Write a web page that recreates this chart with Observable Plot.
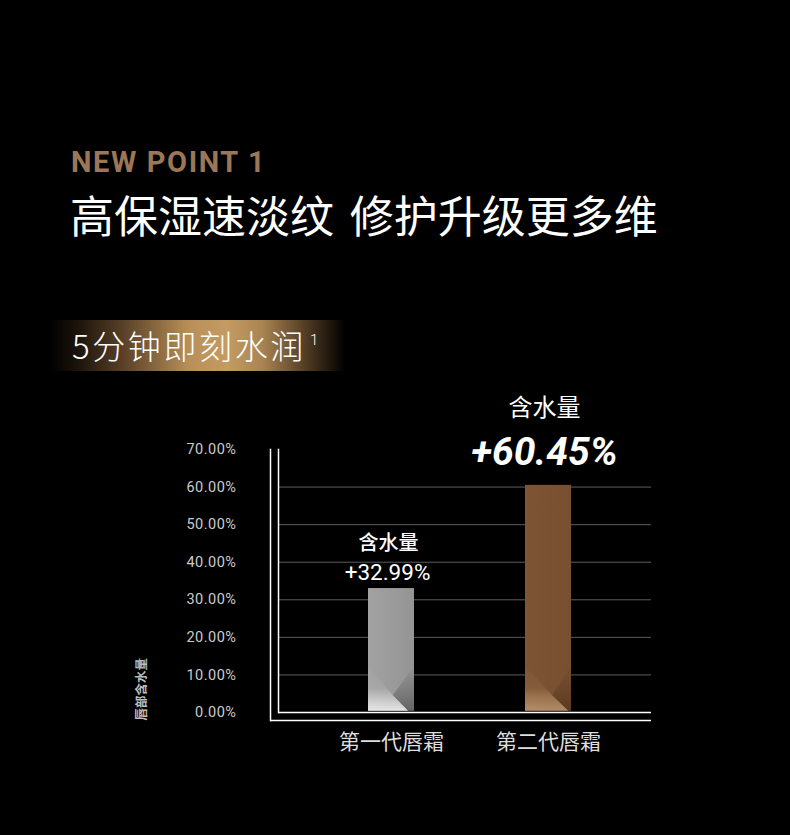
<!DOCTYPE html>
<html>
<head>
<meta charset="utf-8">
<script src="https://cdn.jsdelivr.net/npm/d3@7"></script>
<script src="https://cdn.jsdelivr.net/npm/@observablehq/plot@0.6"></script>
<style>
html, body { margin: 0; padding: 0; background: #000; }
#page { position: relative; width: 790px; height: 835px; background: #000; overflow: hidden; font-family: "Noto Sans CJK SC", "Noto Sans", sans-serif; }
#kicker { position: absolute; left: 71px; top: 148px; font: 700 29px/29px Roboto, "Noto Sans", sans-serif; letter-spacing: 1.6px; color: #9b7758; white-space: nowrap; }
#title { position: absolute; left: 70px; top: 189px; font: 400 44px/50px "Noto Sans CJK SC", sans-serif; color: #fff; word-spacing: 6px; white-space: nowrap; margin: 0; }
#banner { position: absolute; left: 50px; top: 320px; width: 295px; height: 51px;
  background: linear-gradient(90deg, rgba(0,0,0,0) 0%, #1e150c 10%, #5a4128 25%, #b88f58 47%, #c49c62 60%, #a98452 72%, #4a3620 88%, #000 100%); }
#banner .t { position: absolute; left: 22px; top: 0; font: 300 33px/51px "Noto Sans CJK SC", sans-serif; color: #fff; letter-spacing: 2.6px; white-space: nowrap; }
#banner .sup { position: absolute; left: 260px; top: 13px; font: 300 15px/15px Roboto, sans-serif; color: #fff; }
#chart { position: absolute; left: 0; top: 380px; }
#chart svg [aria-label="y-axis tick label"] text { letter-spacing: 0.5px; }
</style>
</head>
<body>
<div id="page">
  <div id="kicker">NEW POINT 1</div>
  <h1 id="title">高保湿速淡纹 修护升级更多维</h1>
  <div id="banner"><span class="t">5分钟即刻水润</span><span class="sup">1</span></div>
  <div id="chart"></div>
</div>
<script>
const categories = ["第一代唇霜", "第二代唇霜"];
const values = [32.99, 60.45];
const valueLabels = ["+32.99%", "+60.45%"];
const labelTitle = "含水量";
const yTicks = [0, 10, 20, 30, 40, 50, 60, 70];
const gridTicks = [10, 20, 30, 40, 50, 60];
const yTitle = "唇部含水量";

const data = categories.map((c, i) => ({category: c, value: values[i], label: valueLabels[i], i}));

const SVGNS = "http://www.w3.org/2000/svg";

function defsMark() {
  const defs = d3.create("svg:defs");
  const lg = (id, x2, y2, stops) => {
    const g = defs.append("linearGradient").attr("id", id)
      .attr("x1", 0).attr("y1", 0).attr("x2", x2).attr("y2", y2);
    stops.forEach(([o, c, a]) => g.append("stop").attr("offset", o).attr("stop-color", c).attr("stop-opacity", a == null ? 1 : a));
  };
  lg("gGray", 1, 0, [[0, "#a2a2a2"], [1, "#949494"]]);
  lg("gBrown", 1, 0, [[0, "#7e5534"], [1, "#79502f"]]);
  lg("fGrayL", 0, 1, [[0, "#ffffff", 0], [0.5, "#ffffff", 0.08], [0.66, "#ffffff", 0.3], [1, "#ffffff", 0.75]]);
  lg("fGrayD", 0, 1, [[0, "#000000", 0], [0.65, "#000000", 0.2], [1, "#000000", 0.33]]);
  lg("fBrownL", 0, 1, [[0, "#e8c49c", 0], [0.5, "#e8c49c", 0.08], [0.66, "#e8c49c", 0.25], [1, "#e8c49c", 0.5]]);
  lg("fBrownD", 0, 1, [[0, "#1e0e00", 0], [0.65, "#1e0e00", 0.2], [1, "#1e0e00", 0.33]]);
  return defs.node();
}

function foldRender(lightId, darkId, cxf, exf) {
  return function(index, scales, vals, dims, context, next) {
    const g = next(index, scales, vals, dims, context);
    g.querySelectorAll("rect").forEach(r => {
      const x = +r.getAttribute("x"), y = +r.getAttribute("y");
      const w = +r.getAttribute("width"), h = +r.getAttribute("height");
      const yb = y + h, x2 = x + w;
      const cx = x + cxf * w, cy = yb - 15.5, ex = x + exf * w;
      const top = Math.max(y, yb - 45);
      const mk = (pts, id) => {
        const p = document.createElementNS(SVGNS, "polygon");
        p.setAttribute("points", pts.map(q => q.join(",")).join(" "));
        p.setAttribute("fill", `url(#${id})`);
        g.appendChild(p);
      };
      mk([[cx, cy], [x2, top], [x2, yb], [ex, yb]], darkId);
      mk([[x, yb], [x, top], [cx, cy], [ex, yb]], lightId);
    });
    return g;
  };
}

const chart = Plot.plot({
  width: 790,
  height: 455,
  marginTop: 69,
  marginBottom: 123,
  marginLeft: 278,
  marginRight: 139,
  style: {background: "transparent", color: "#c8c8c8", fontFamily: "Roboto, 'Noto Sans CJK SC', sans-serif", overflow: "visible"},
  x: {domain: categories, paddingInner: 0.709, paddingOuter: 0.535, align: 0.527, axis: null},
  y: {domain: [0, 70], axis: null},
  marks: [
    defsMark,
    Plot.gridY(gridTicks, {stroke: "#5c5c5c", strokeOpacity: 1, strokeWidth: 1}),
    Plot.axisY(yTicks, {label: null, tickSize: 0, tickPadding: 42, tickFormat: d => d.toFixed(2) + "%", fontSize: 14.5, color: "#cccccc", fontFamily: "Roboto, sans-serif"}),
    Plot.axisX({label: null, tickSize: 0, tickPadding: 22, fontSize: 21, color: "#dedede", fontFamily: "'Noto Sans CJK SC', sans-serif"}),
    Plot.barY(data, {filter: d => d.i === 0, x: "category", y: "value", fill: "url(#gGray)", insetBottom: 1.3, render: foldRender("fGrayL", "fGrayD", 0.54, 0.87)}),
    Plot.barY(data, {filter: d => d.i === 1, x: "category", y: "value", fill: "url(#gBrown)", insetBottom: 1.3, render: foldRender("fBrownL", "fBrownD", 0.59, 0.94)}),
    Plot.ruleY([0], {stroke: "#fff", strokeWidth: 1.5}),
    Plot.ruleY([0], {stroke: "#fff", strokeWidth: 1.5, dy: 8, insetLeft: -8}),
    Plot.frame({anchor: "left", stroke: "#fff", strokeWidth: 1.5}),
    Plot.frame({anchor: "left", stroke: "#fff", strokeWidth: 1.5, dx: -8, insetBottom: -8}),
    Plot.text(data, {filter: d => d.i === 0, x: "category", y: "value", text: "label", dx: -4, dy: -16, fontSize: 22.5, fill: "#fff", fontFamily: "Roboto, sans-serif"}),
    Plot.text(data, {filter: d => d.i === 0, x: "category", y: "value", text: () => labelTitle, dx: -3, dy: -45, fontSize: 20, fontWeight: 500, fill: "#fff", fontFamily: "'Noto Sans CJK SC', sans-serif"}),
    Plot.text(data, {filter: d => d.i === 1, x: "category", y: "value", text: "label", dx: -4, dy: -33, fontSize: 39, fontWeight: 700, fontStyle: "italic", fill: "#fff", fontFamily: "Roboto, sans-serif"}),
    Plot.text(data, {filter: d => d.i === 1, x: "category", y: "value", text: () => labelTitle, dx: -4, dy: -77, fontSize: 24, fontWeight: 400, fill: "#fff", fontFamily: "'Noto Sans CJK SC', sans-serif"}),
    Plot.text([yTitle], {text: d => d, frameAnchor: "bottom-left", rotate: -90, textAnchor: "start", dx: -133, dy: 8, fontSize: 12.5, fontWeight: 700, fill: "#bdbdbd", fontFamily: "'Noto Sans CJK SC', sans-serif"})
  ]
});
document.getElementById("chart").appendChild(chart);
</script>
</body>
</html>
